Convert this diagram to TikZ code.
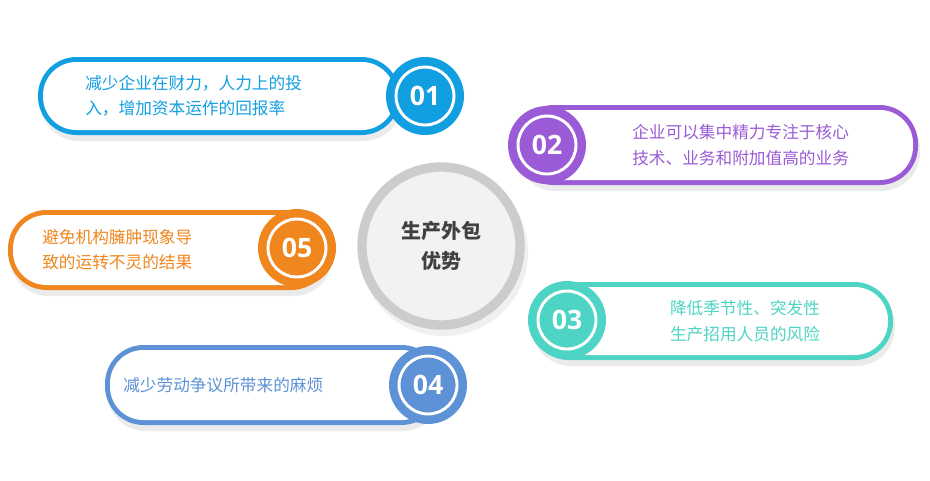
\documentclass[tikz,border=0pt]{standalone}
\usepackage{fontspec}
\newfontfamily\cjk{Noto Sans CJK SC}
\setsansfont{Open Sans}
\definecolor{cA}{HTML}{129FE2}
\definecolor{cB}{HTML}{9B5BD6}
\definecolor{cC}{HTML}{F0861E}
\definecolor{cD}{HTML}{4ED4C4}
\definecolor{cE}{HTML}{5E92D6}
\tikzset{
 txt/.style={font=\cjk\fontsize{12.5pt}{19pt}\selectfont, align=left, inner sep=0},
 num/.style={font=\sffamily\bfseries\fontsize{20pt}{20pt}\selectfont, text=white},
}
% #1 colour, #2 x1, #3 y1, #4 x2, #5 y2, #6 circle x, #7 circle y
\newcommand\mypill[7]{%
 \fill[black!8, rounded corners=29] ({#2+2},{#3+6}) rectangle ({#4+2},{#5+6});
 \fill[#1, rounded corners=29] (#2,#3) rectangle (#4,#5);
 \fill[white, rounded corners=25] ({#2+5},{#3+5}) rectangle ({#4-5},{#5-5});
 \fill[#1] (#6,#7) circle (39);
 \draw[white, line width=2.2] (#6,#7) circle (29);
}
\begin{document}
\begin{tikzpicture}[x=0.75pt,y=-0.75pt]
\useasboundingbox (0,0) rectangle (930,480);
% centre
\fill[black!6] (444,252) circle (84);
\draw[line width=7, black!20, fill=black!5] (441,246) circle (79);
\node[font=\cjk\bfseries\fontsize{15pt}{22pt}\selectfont, text=black!75, align=center] (c) at (441,246) {生产外包\\优势};
% 01
\mypill{cA}{38}{57}{400}{135}{425}{96}
\node[num] (n1) at (425,96) {01};
\node[txt, text=cA, anchor=west] (t1) at (85,96) {减少企业在财力，人力上的投\\入，增加资本运作的回报率};
% 02
\mypill{cB}{515}{105}{918}{185}{547}{145}
\node[num] (n2) at (547,145) {02};
\node[txt, text=cB, anchor=west] (t2) at (632,145) {企业可以集中精力专注于核心\\技术、业务和附加值高的业务};
% 05
\mypill{cC}{8}{210}{330}{290}{297}{248}
\node[num] (n5) at (297,248) {05};
\node[txt, text=cC, anchor=west] (t5) at (42,250) {避免机构臃肿现象导\\致的运转不灵的结果};
% 03
\mypill{cD}{530}{282}{893}{360}{567}{320}
\node[num] (n3) at (567,320) {03};
\node[txt, text=cD, align=center] (t3) at (745,321) {降低季节性、突发性\\生产招用人员的风险};
% 04
\mypill{cE}{105}{345}{440}{425}{428}{385}
\node[num] (n4) at (428,385) {04};
\node[txt, text=cE, anchor=west] (t4) at (123,385) {减少劳动争议所带来的麻烦};
\end{tikzpicture}
\end{document}
